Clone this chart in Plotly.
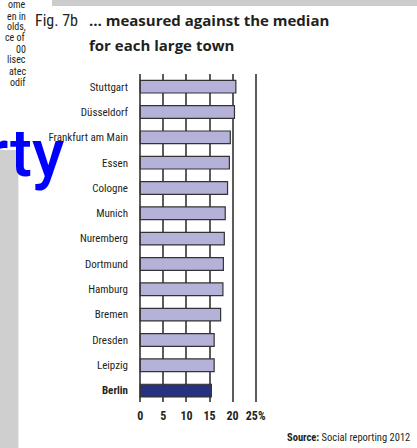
import plotly.graph_objects as go

# ---- data ----
towns = ["Stuttgart", "Düsseldorf", "Frankfurt am Main", "Essen", "Cologne", "Munich",
         "Nuremberg", "Dortmund", "Hamburg", "Bremen", "Dresden", "Leipzig", "Berlin"]
rates = [20.7, 20.4, 19.5, 19.3, 18.9, 18.4, 18.2, 18.0, 17.9, 17.4, 16.0, 16.0, 15.4]
x_tickvals = [0, 5, 10, 15, 20, 25]
x_ticktext = ["0", "5", "10", "15", "20", "25%"]
side_fragments = ["ome", "en in", "olds,", "ce of", "00", "lisec", "atec", "odif"]

W_PX, H_PX = 417, 448
L, R_EDGE = 137.7, 258.3
T, B_EDGE = 74, 402
PW, PH = R_EDGE - L, B_EDGE - T


def px(x):
    return (x - L) / PW


def py(y):
    return 1 - (y - T) / PH


FONT = "Liberation Sans Narrow, Roboto Condensed, Arial Narrow, Liberation Sans, sans-serif"
DARK = "#231f20"

colors = ["#b5b2da"] * (len(towns) - 1) + ["#28317f"]
ticktext_y = [t if t != "Berlin" else "<b>Berlin</b>" for t in towns]

fig = go.Figure()
fig.add_trace(go.Bar(
    y=towns, x=rates, orientation="h", width=0.5,
    marker=dict(color=colors, line=dict(color="#333333", width=1.2)),
    hoverinfo="x+y",
))

fig.update_layout(
    width=W_PX, height=H_PX,
    margin=dict(l=L, r=W_PX - R_EDGE, t=T, b=H_PX - B_EDGE, pad=0),
    paper_bgcolor="white", plot_bgcolor="white",
    showlegend=False,
    font=dict(family=FONT, color=DARK),
    xaxis=dict(
        range=[-0.5, 25.5], tickvals=x_tickvals, ticktext=x_ticktext,
        showgrid=True, gridcolor="#5c5c5c", gridwidth=1.6,
        zeroline=True, zerolinecolor="#5c5c5c", zerolinewidth=1.6,
        showline=False, ticks="", ticklabelstandoff=5,
        tickfont=dict(family=FONT, size=12, color=DARK, weight="bold"),
        fixedrange=True,
    ),
    yaxis=dict(
        categoryorder="array", categoryarray=towns,
        range=[12.45, -0.5], tickvals=towns, ticktext=ticktext_y,
        showgrid=False, zeroline=False, showline=False, ticks="",
        ticklabelstandoff=9,
        tickfont=dict(family=FONT, size=11, color=DARK),
        fixedrange=True,
    ),
)

shapes = [
    dict(type="rect", xref="paper", yref="paper", x0=px(52), x1=px(417), y0=py(-4), y1=py(6),
         fillcolor="#cccccc", line=dict(width=0), layer="above"),
    dict(type="rect", xref="paper", yref="paper", x0=px(-2), x1=px(17.5), y0=py(150), y1=py(450),
         fillcolor="#cfcfcf", line=dict(width=0), layer="below"),
]
fig.update_layout(shapes=shapes)

ann = []
ann.append(dict(text="Fig. 7b", xref="paper", yref="paper", x=px(32), y=py(20),
                xanchor="left", yanchor="middle", showarrow=False,
                font=dict(family=FONT, size=16, color=DARK)))
ann.append(dict(text="<b>… measured against the median</b>", xref="paper", yref="paper",
                x=px(86), y=py(20), xanchor="left", yanchor="middle", showarrow=False,
                font=dict(family="Open Sans, Liberation Sans, sans-serif", size=15, color=DARK)))
ann.append(dict(text="<b>for each large town</b>", xref="paper", yref="paper",
                x=px(86), y=py(45), xanchor="left", yanchor="middle", showarrow=False,
                font=dict(family="Open Sans, Liberation Sans, sans-serif", size=15, color=DARK)))
ann.append(dict(text="<b>Source:</b> Social reporting 2012", xref="paper", yref="paper",
                x=px(413), y=py(437), xanchor="right", yanchor="middle", showarrow=False,
                font=dict(family=FONT, size=10.5, color=DARK)))
for i, frag in enumerate(side_fragments):
    ann.append(dict(text=frag, xref="paper", yref="paper", x=px(27), y=py(5 + 11 * i),
                    xanchor="right", yanchor="middle", showarrow=False,
                    font=dict(family=FONT, size=10, color=DARK)))
ann.append(dict(text="rty", xref="paper", yref="paper", x=px(65), y=py(153),
                xanchor="right", yanchor="middle", showarrow=False,
                font=dict(family="Roboto, Noto Sans, sans-serif", size=66, color="#0000ff",
                          weight=500)))
fig.update_layout(annotations=ann)

post = (
    "document.body.style.margin='0';document.body.style.overflow='hidden';"
    "var s=document.createElement('div');"
    "s.style.cssText='position:fixed;left:52px;top:0;width:365px;height:6px;"
    "background:#cccccc;z-index:10;pointer-events:none';"
    "document.body.appendChild(s);"
)
fig.write_html("out.html", config={"displayModeBar": False}, post_script=post)
